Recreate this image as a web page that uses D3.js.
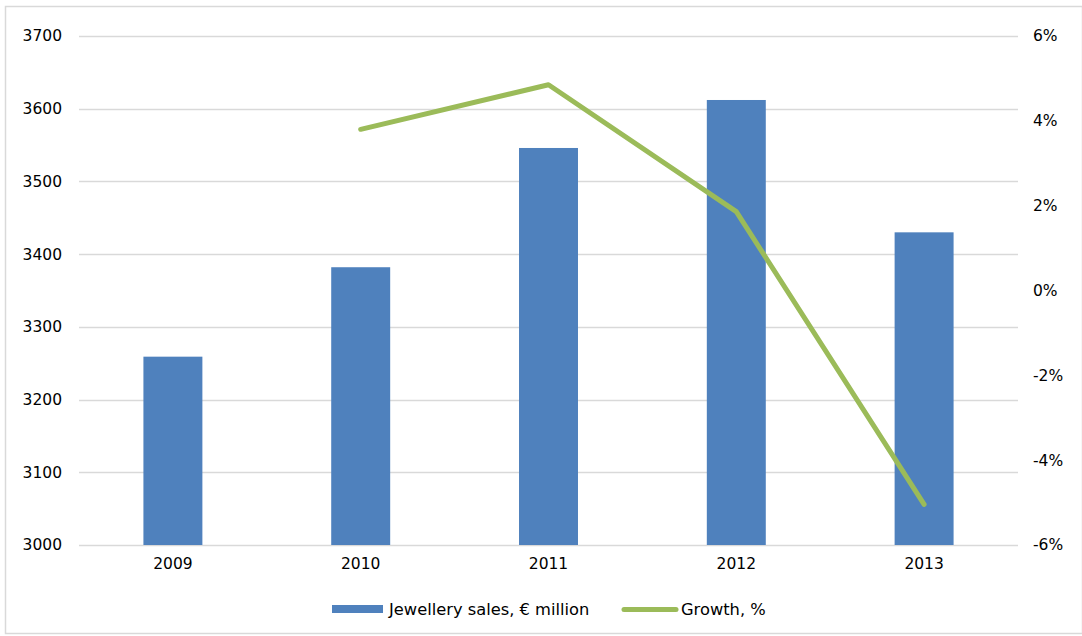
<!DOCTYPE html>
<html>
<head>
<meta charset="utf-8">
<script src="https://cdn.jsdelivr.net/npm/d3@7/dist/d3.min.js"></script>
<style>
  html, body { margin: 0; padding: 0; background: #fff; }
  svg { display: block; font-family: "DejaVu Sans", Verdana, sans-serif; }
</style>
</head>
<body>
<svg id="chart" width="1082" height="636"></svg>
<script>
// Jewellery sales (€ million) and year-on-year growth
const years = ["2009", "2010", "2011", "2012", "2013"];
const sales = [3259, 3382, 3546, 3612, 3430];
const growth = [null, 3.8, 4.85, 1.86, -5.04];
const salesTicks = [3000, 3100, 3200, 3300, 3400, 3500, 3600, 3700];
const growthTicks = [-6, -4, -2, 0, 2, 4, 6];

const FONT = "DejaVu Sans, Verdana, sans-serif";
const svg = d3.select("#chart");
const W = 1082, H = 636;
const m = { left: 79, right: 1018, top: 36, bottom: 545 };

// outer frame
svg.append("rect")
  .attr("x", 5.5).attr("y", 6.5)
  .attr("width", W - 5).attr("height", H - 9)
  .attr("fill", "none").attr("stroke", "#d9d9d9").attr("stroke-width", 1.5);

const x = d3.scaleBand().domain(years).range([m.left, m.right]).paddingInner(0).paddingOuter(0);
const yL = d3.scaleLinear().domain([3000, 3700]).range([m.bottom, m.top]);
const yR = d3.scaleLinear().domain([-6, 6]).range([m.bottom, m.top]);

// horizontal gridlines
svg.append("g").selectAll("line").data(salesTicks).join("line")
  .attr("x1", m.left).attr("x2", m.right)
  .attr("y1", d => Math.round(yL(d)) + 0.5).attr("y2", d => Math.round(yL(d)) + 0.5)
  .attr("stroke", "#d9d9d9").attr("stroke-width", 1.3);

// bars
const barW = x.bandwidth() * 0.314;
svg.append("g").selectAll("rect").data(years).join("rect")
  .attr("x", d => x(d) + x.bandwidth() / 2 - barW / 2)
  .attr("width", barW)
  .attr("y", (d, i) => yL(sales[i]))
  .attr("height", (d, i) => yL(3000) - yL(sales[i]))
  .attr("fill", "#4f81bd");

function styleAxis(g) {
  g.select(".domain").remove();
  g.selectAll("text").attr("font-size", 15.5).attr("fill", "#000").attr("font-family", FONT);
}

// left axis
const leftAxis = d3.axisLeft(yL).tickValues(salesTicks).tickSize(0).tickPadding(17)
  .tickFormat(d3.format("d"));
svg.append("g").attr("transform", `translate(${m.left},0)`).call(leftAxis).call(styleAxis);

// right axis
const rightAxis = d3.axisRight(yR).tickValues(growthTicks).tickSize(0).tickPadding(15)
  .tickFormat(d => d + "%");
svg.append("g").attr("transform", `translate(${m.right},0)`).call(rightAxis).call(styleAxis);

// category axis
const bottomAxis = d3.axisBottom(x).tickSize(0).tickPadding(13);
svg.append("g").attr("transform", `translate(0,${m.bottom})`).call(bottomAxis).call(styleAxis);

// growth line
const line = d3.line()
  .defined(d => d.g !== null)
  .x(d => x(d.year) + x.bandwidth() / 2)
  .y(d => yR(d.g));
svg.append("path")
  .datum(years.map((y, i) => ({ year: y, g: growth[i] })))
  .attr("d", line)
  .attr("fill", "none")
  .attr("stroke", "#9bbb59")
  .attr("stroke-width", 5)
  .attr("stroke-linejoin", "round")
  .attr("stroke-linecap", "round");

// legend
const lg = svg.append("g").attr("font-size", 16.3).attr("fill", "#000").attr("font-family", FONT);
lg.append("rect").attr("x", 332).attr("y", 605).attr("width", 51).attr("height", 8).attr("fill", "#4f81bd");
lg.append("text").attr("x", 389).attr("y", 614.5).text("Jewellery sales, € million");
lg.append("line").attr("x1", 624).attr("x2", 676).attr("y1", 609.5).attr("y2", 609.5)
  .attr("stroke", "#9bbb59").attr("stroke-width", 5).attr("stroke-linecap", "round");
lg.append("text").attr("x", 681).attr("y", 614.5).text("Growth, %");
</script>
</body>
</html>
